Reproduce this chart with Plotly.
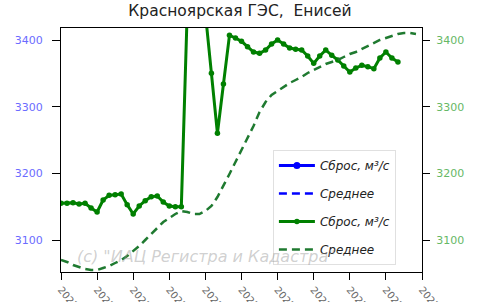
import plotly.graph_objects as go

# ---- data ----
days = list(range(0, 57))
release = [3155, 3155, 3156, 3154, 3155, 3148, 3142, 3160, 3167, 3168,
           3169, 3153, 3139, 3151, 3159, 3165, 3166, 3157, 3151, 3150,
           3150, 3450, 3440, 3445, 3440, 3350, 3260, 3334, 3407, 3403,
           3398, 3390, 3382, 3380, 3385, 3394, 3400, 3394, 3388, 3386,
           3385, 3376, 3365, 3376, 3385, 3377, 3370, 3361, 3352, 3358,
           3362, 3360, 3357, 3373, 3382, 3373, 3367]

avg_days = list(range(0, 60))
avg_px = [260, 262, 265, 267, 269, 270, 270, 268, 266, 263,
          260, 256, 251, 246, 240, 234, 228, 222, 218, 214,
          211, 212, 214, 214, 211, 206, 197, 186, 174, 162,
          150, 137, 126, 112, 102, 95, 91, 87, 83, 80,
          77, 73, 70, 67, 64, 62, 60, 57, 54, 52,
          49, 46, 43, 40, 38, 36, 34, 33, 33, 34]
average = [3400 - (p - 40) * 1.5 for p in avg_px]

tick_vals = list(range(0, 61, 6))
tick_text = ["2023-05-%02d" % (1 + i) for i in range(len(tick_vals))]
y_ticks = [3100, 3200, 3300, 3400]
y_range = [3052, 3418]

title = "Красноярская ГЭС,  Енисей"
lbl_release = "<i>Сброс, м³/с</i>"
lbl_avg = "<i>Среднее</i>"
watermark = "(c) \"ИАЦ Регистра и Кадастра\""

FONT = "DejaVu Sans"

fig = go.Figure()
# blue series (left axis) – no visible data
fig.add_trace(go.Scatter(x=[None], y=[None], mode="lines+markers", name=lbl_release,
                         line=dict(color="blue", width=3), marker=dict(size=7, color="blue"),
                         legendgroup="a", yaxis="y"))
fig.add_trace(go.Scatter(x=[None], y=[None], mode="lines", name=lbl_avg,
                         line=dict(color="blue", width=2.5, dash="8px,5px"),
                         legendgroup="b", yaxis="y"))
# green series (right axis)
fig.add_trace(go.Scatter(x=days, y=release, mode="lines+markers", name=lbl_release,
                         line=dict(color="green", width=3), marker=dict(size=5.5, color="green"),
                         legendgroup="c", yaxis="y2"))
fig.add_trace(go.Scatter(x=avg_days, y=average, mode="lines", name=lbl_avg,
                         line=dict(color="#1f7a30", width=2.5, dash="8px,5px"),
                         legendgroup="d", yaxis="y2"))

fig.update_layout(
    width=500, height=302,
    margin=dict(l=61, r=78, t=28, b=30, autoexpand=False),
    paper_bgcolor="white", plot_bgcolor="white",
    font=dict(family=FONT, size=11, color="#333"),
    title=dict(text=title, x=0.48, xanchor="center", y=0.965, yanchor="middle",
               font=dict(family=FONT, size=15.5, color="#222")),
    xaxis=dict(range=[0, 60], tickmode="array", tickvals=tick_vals, ticktext=tick_text,
               tickangle=50, ticks="outside", ticklen=7, tickcolor="black",
               showline=True, linecolor="black", linewidth=1, mirror=True,
               showgrid=False, zeroline=False, automargin=False,
               tickfont=dict(family=FONT, size=10, color="#666")),
    yaxis=dict(range=y_range, tickvals=y_ticks, ticks="outside", ticklen=8, tickcolor="black",
               showline=True, linecolor="black", linewidth=1, mirror=False,
               showgrid=False, zeroline=False, automargin=False, ticklabelstandoff=7,
               tickfont=dict(family=FONT, size=11, color="#6b6bff")),
    yaxis2=dict(range=y_range, tickvals=y_ticks, ticks="outside", ticklen=7, tickcolor="black",
                overlaying="y", side="right",
                showline=True, linecolor="black", linewidth=1,
                showgrid=False, zeroline=False, automargin=False, ticklabelstandoff=4,
                tickfont=dict(family=FONT, size=11, color="#66b866")),
    legend=dict(x=0.587, y=0.50, xanchor="left", yanchor="top",
                bgcolor="rgba(255,255,255,0.8)", bordercolor="#e0e0e0", borderwidth=1,
                font=dict(family=FONT, size=12, color="#222"),
                tracegroupgap=9, itemwidth=36),
    showlegend=True,
    annotations=[dict(text="<i>" + watermark + "</i>", x=(206 - 61) / 361, y=3075,
                      xref="paper", yref="y", showarrow=False,
                      font=dict(family=FONT, size=16, color="rgba(150,150,150,0.45)"))]
)

fig.write_html("out.html")
